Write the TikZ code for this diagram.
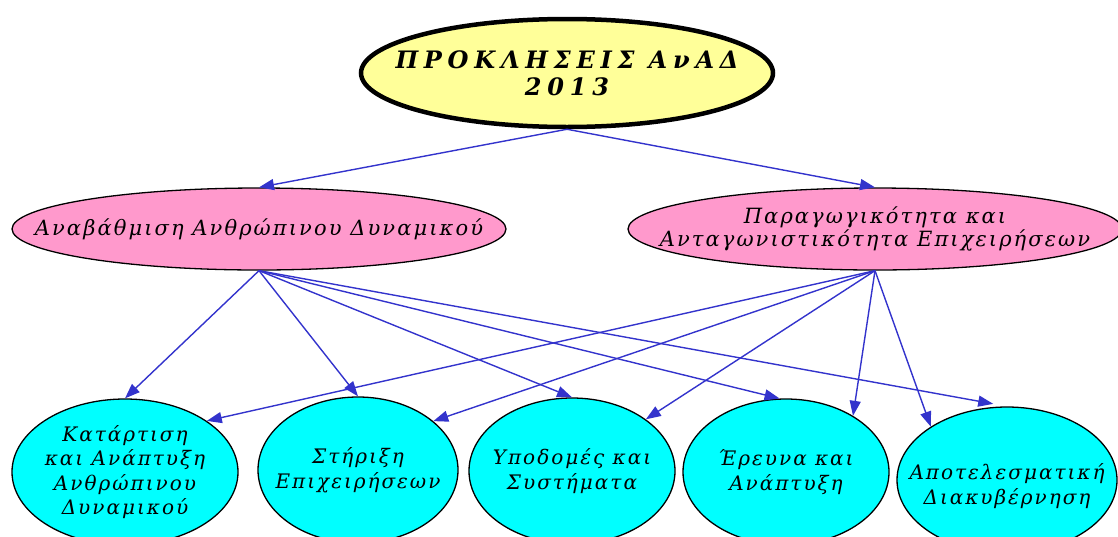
\documentclass[tikz,border=0pt]{standalone}
\usepackage{fontspec}
\setmainfont{DejaVu Serif}
\newfontfamily\grfont[LetterSpace=10]{DejaVu Serif}
\newfontfamily\grtitlefont[LetterSpace=24]{DejaVu Serif}
\usetikzlibrary{shapes.geometric,arrows.meta}
\definecolor{titleyellow}{HTML}{FFFF99}
\definecolor{goalpink}{HTML}{FF99CC}
\definecolor{axiscyan}{HTML}{00FFFF}
\definecolor{linkblue}{HTML}{3333CC}

\begin{document}
\begin{tikzpicture}[x=1pt,y=-1pt,
    title/.style={ellipse,draw,line width=4.5pt,fill=titleyellow,inner sep=0pt,
      minimum width=412pt,minimum height=108pt},
    goal/.style={ellipse,draw,line width=1.3pt,fill=goalpink,inner sep=0pt,
      minimum width=494pt,minimum height=82pt},
    axis/.style={ellipse,draw,line width=1.3pt,fill=axiscyan,inner sep=0pt,
      minimum height=146pt},
    txt/.style={align=center,inner sep=0pt,font=\grfont\itshape\fontsize{20}{24.5}\selectfont},
    gtxt/.style={align=center,inner sep=0pt,font=\grfont\itshape\fontsize{21}{21}\selectfont},
    ttxt/.style={align=center,inner sep=0pt,font=\grtitlefont\bfseries\itshape\fontsize{24}{27}\selectfont},
    link/.style={draw=linkblue,line width=1.4pt,-{Triangle[length=15pt,width=11pt]}}
  ]
  \useasboundingbox (0,0) rectangle (1118,536);
  \clip (0,0) rectangle (1118,536);

  % Title
  \node[title] (top) at (567,73) {};
  \node[ttxt] (toptext) at (top) {ΠΡΟΚΛΗΣΕΙΣ ΑνΑΔ\\2013};

  % Two main goals
  \node[goal] (hum) at (259,229) {};
  \node[gtxt] at (hum) {Αναβάθμιση Ανθρώπινου Δυναμικού};
  \node[goal] (prod) at (875,229) {};
  \node[gtxt] at (prod) {Παραγωγικότητα και\\Ανταγωνιστικότητα Επιχειρήσεων};

  % Axes
  \node[axis,minimum width=226pt] (ax1) at (125,472) {};
  \node[txt] at (ax1) {Κατάρτιση\\και Ανάπτυξη\\Ανθρώπινου\\Δυναμικού};
  \node[axis,minimum width=200pt] (ax2) at (358,470) {};
  \node[txt] at (ax2) {Στήριξη\\Επιχειρήσεων};
  \node[axis,minimum width=206pt] (ax3) at (572,471) {};
  \node[txt] at (ax3) {Υποδομές και\\Συστήματα};
  \node[axis,minimum width=206pt] (ax4) at (786,472) {};
  \node[txt] at (ax4) {Έρευνα και\\Ανάπτυξη};
  \node[axis,minimum width=220pt] (ax5) at (1007,480) {};
  \node[txt] at ([yshift=-6pt]ax5.center) {Αποτελεσματική\\Διακυβέρνηση};

  % Arrows
  \draw[link] (top.south) -- (hum.north);
  \draw[link] (top.south) -- (prod.north);
  \draw[link] (hum.south) -- (ax1.north);
  \draw[link] (hum.south) -- (ax2.north);
  \draw[link] (hum.south) -- (ax3.north);
  \draw[link] (hum.south) -- (ax4.95);
  \draw[link,shorten >=14pt] (hum.south) -- (ax5.north);
  \draw[link] (prod.south) -- (ax1.32);
  \draw[link] (prod.south) -- (ax2.33);
  \draw[link] (prod.south) -- (ax3.35);
  \draw[link] (prod.south) -- (ax4.40);
  \draw[link] (prod.south) -- (ax5.145);
\end{tikzpicture}
\end{document}
